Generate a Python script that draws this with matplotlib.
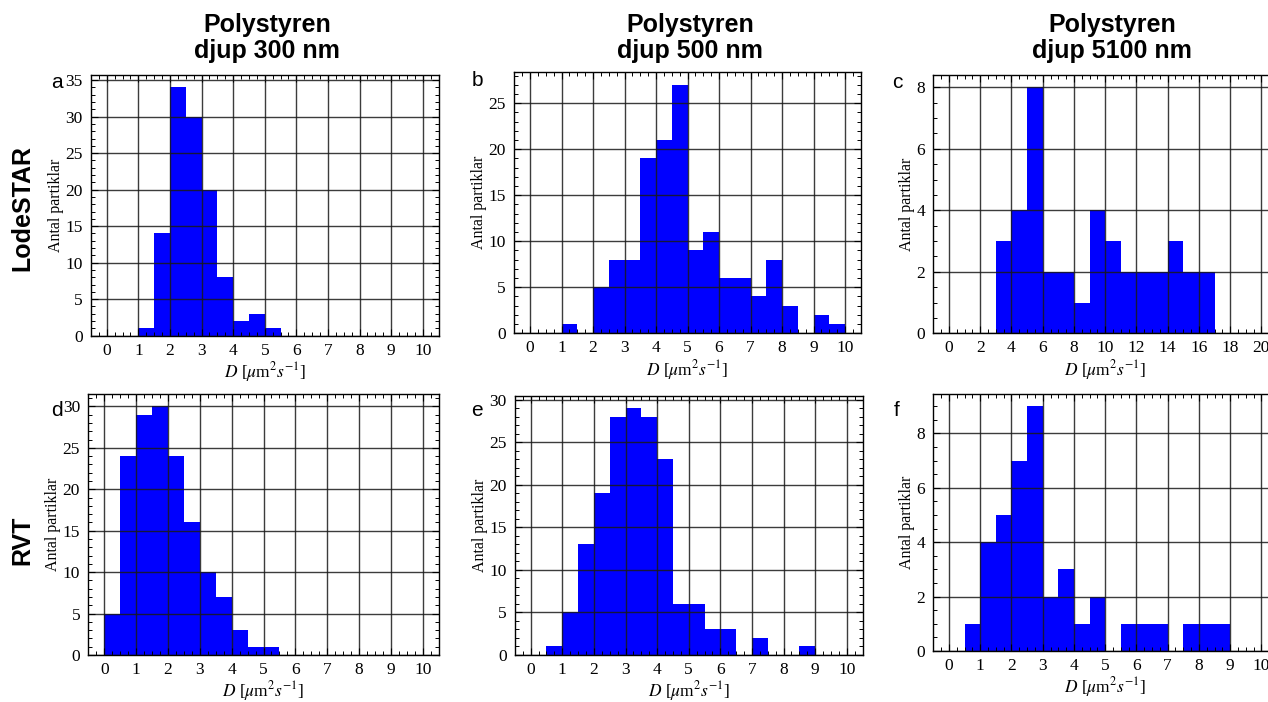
import numpy as np
import matplotlib
matplotlib.use("Agg")
import matplotlib.pyplot as plt
from matplotlib.ticker import MultipleLocator

# ---- data ----
col_titles = ["Polystyren\ndjup 300 nm", "Polystyren\ndjup 500 nm", "Polystyren\ndjup 5100 nm"]
row_titles = ["LodeSTAR", "RVT"]
panel_letters = ["a", "b", "c", "d", "e", "f"]

bin_width_fine = 0.5   # µm^2/s, panels a,b,d,e,f
bin_width_coarse = 1.0 # µm^2/s, panel c

counts_a = [0, 0, 1, 14, 34, 30, 20, 8, 2, 3, 1, 0, 0, 0, 0, 0, 0, 0, 0, 0]
counts_b = [0, 0, 1, 0, 5, 8, 8, 19, 21, 27, 9, 11, 6, 6, 4, 8, 3, 0, 2, 1]
counts_c = [0, 0, 0, 3, 4, 8, 2, 2, 1, 4, 3, 2, 2, 2, 3, 2, 2, 0, 0, 0]
counts_d = [5, 24, 29, 30, 24, 16, 10, 7, 3, 1, 1, 0, 0, 0, 0, 0, 0, 0, 0, 0]
counts_e = [0, 1, 5, 13, 19, 28, 29, 28, 23, 6, 6, 3, 3, 0, 2, 0, 0, 1, 0, 0]
counts_f = [0, 1, 4, 5, 7, 9, 2, 3, 1, 2, 0, 1, 1, 1, 0, 1, 1, 1, 0, 0]

x_label = r"$D$ [$\mu$m$^2$$s^{-1}$]"
y_label = "Antal partiklar"

plt.rcParams["mathtext.fontset"] = "stix"
serif = ["Liberation Serif", "DejaVu Serif"]
sans = ["Liberation Sans", "DejaVu Sans"]

W, H = 1268, 702
fig = plt.figure(figsize=(W / 100, H / 100), dpi=100)

def rect(l, r, t, b):
    return [l / W, 1 - b / H, (r - l) / W, (b - t) / H]

boxes = [
    rect(91, 438.5, 75, 335.7),
    rect(514.3, 860.8, 72.3, 333.3),
    rect(933.4, 1277, 75, 333.3),
    rect(88.4, 438.6, 394, 655),
    rect(514.9, 862.5, 395.7, 655),
    rect(933.4, 1277, 394, 651),
]

panels = [
    (counts_a, bin_width_fine, 5, 1, 1, 0.25),
    (counts_b, bin_width_fine, 5, 1, 1, 0.25),
    (counts_c, bin_width_coarse, 2, 0.5, 2, 0.5),
    (counts_d, bin_width_fine, 5, 1, 1, 0.25),
    (counts_e, bin_width_fine, 5, 1, 1, 0.25),
    (counts_f, bin_width_fine, 2, 0.5, 1, 0.25),
]

axes = []
for i, (box, (counts, bw, ymaj, ymin, xmaj, xmin)) in enumerate(zip(boxes, panels)):
    ax = fig.add_axes(box)
    counts = np.asarray(counts, dtype=float)
    edges = np.arange(len(counts) + 1) * bw
    ax.stairs(counts, edges, fill=True, color="#0000ff", zorder=1)
    xmax = edges[-1]
    pad = 1.0 if bw > 0.5 else 0.5
    ax.set_xlim(-pad, xmax + pad)
    ax.set_ylim(0, counts.max() * 1.05)
    ax.xaxis.set_major_locator(MultipleLocator(xmaj))
    ax.xaxis.set_minor_locator(MultipleLocator(xmin))
    ax.yaxis.set_major_locator(MultipleLocator(ymaj))
    ax.yaxis.set_minor_locator(MultipleLocator(ymin))
    ax.set_axisbelow(False)
    ax.grid(True, which="major", color="#1a1a1a", lw=1.0, alpha=0.85)
    ax.tick_params(which="both", direction="in", top=True, right=True,
                   labelsize=12.5)
    ax.tick_params(axis="x", which="major", pad=5)
    ax.tick_params(axis="y", which="major", pad=6)
    ax.tick_params(which="major", length=5, width=0.8)
    ax.tick_params(which="minor", length=3, width=0.7)
    for lab in ax.get_xticklabels() + ax.get_yticklabels():
        lab.set_family(serif)
    for sp in ax.spines.values():
        sp.set_linewidth(1.0)
    ax.set_xlabel(x_label, fontsize=12.5, family=serif, labelpad=1)
    ax.set_ylabel(y_label, fontsize=11.5, family=serif, labelpad=1)
    axes.append(ax)

# panel letters
letter_pos = [(57, 82), (477, 80), (897, 82), (57, 410), (477, 411), (897, 410)]
for (x, y), let in zip(letter_pos, panel_letters):
    fig.text(x / W, 1 - y / H, let, fontsize=15, family=sans, ha="center", va="center")

# column titles
for x, t in zip([267, 690, 1112], col_titles):
    fig.text(x / W, 1 - 38 / H, t, fontsize=18, fontweight="bold", family=sans,
             ha="center", va="center", linespacing=1.15)

# row titles
for y, t in zip([208, 540], row_titles):
    fig.text(22 / W, 1 - y / H, t, fontsize=18, fontweight="bold", family=sans,
             ha="center", va="center", rotation=90)

fig.savefig("out.png", dpi=100)
